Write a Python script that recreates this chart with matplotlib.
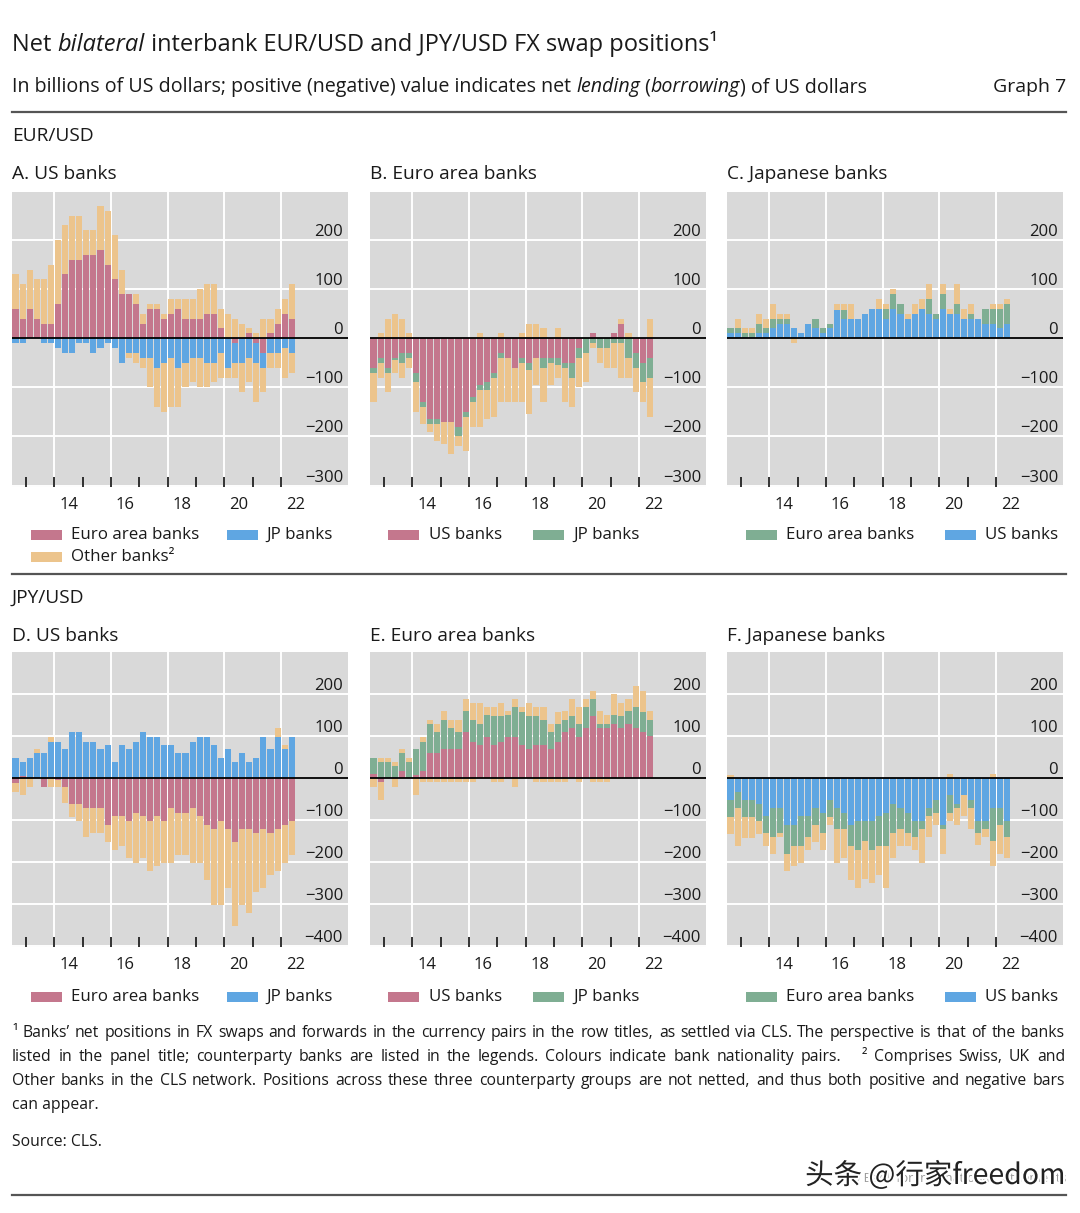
import matplotlib as mpl
mpl.use('Agg')
import matplotlib.pyplot as plt
from matplotlib.patches import Rectangle
from matplotlib.lines import Line2D
import matplotlib.patheffects as pe
import numpy as np
import pandas as pd

plt.rcParams['font.family'] = ['Open Sans', 'DejaVu Sans']

W, H = 1080, 1213

# quarters 2012Q3 .. 2022Q2
quarters = pd.period_range('2012Q3', '2022Q2', freq='Q')
xq = np.array([q.year + (q.quarter - 1) / 4 + 0.125 for q in quarters])

# colours by bank nationality pair
ROSE = '#c4778d'   # US - euro area
BLUE = '#5fa6e2'   # US - Japan
GREEN = '#7fae93'  # euro area - Japan
TAN = '#ecc48c'    # other banks
BG = '#d9d9d9'

# ---- EUR/USD ----
# A. US banks
a_ea = [60, 40, 60, 40, 30, 30, 70, 130, 160, 160, 170, 170, 180, 150, 120, 90, 90, 70, 30, 60,
        60, 40, 50, 60, 40, 40, 40, 50, 50, 20, 0, -10, 0, 10, -10, -30, 10, 30, 50, 40]
a_jp = [-10, -10, 0, 0, -10, -10, -20, -30, -30, -10, -10, -30, -20, -10, -20, -50, -30, -30, -40, -40,
        -60, -50, -40, -60, -50, -40, -40, -50, -50, -30, -60, -40, -50, -40, -40, -30, -30, -30, -20, -30]
a_oth_pos = [70, 70, 80, 80, 90, 120, 130, 100, 90, 90, 50, 50, 90, 110, 90, 50, 0, 20, 20, 10,
             10, 10, 30, 20, 40, 40, 60, 60, 60, 40, 50, 40, 30, 10, 10, 40, 30, 30, 30, 70]
a_oth_neg = [0, 0, 0, 0, 0, 0, 0, 0, 0, 0, 0, 0, 0, 0, 0, 0, -10, -20, -20, -60,
             -80, -100, -100, -80, -50, -50, -60, -50, -40, -50, -20, -30, -60, -50, -80, -50, -30, -30, -60, -40]

# B. Euro area banks
b_us = [-60, -40, -60, -40, -30, -30, -70, -130, -165, -165, -170, -170, -180, -150, -120, -95, -90, -70, -30, -40,
        -60, -40, -50, -40, -40, -40, -40, -50, -50, -20, 0, 10, 0, 0, 10, 30, 0, -30, -50, -40]
b_jp = [-10, -10, -10, -5, -20, -10, -20, -10, -10, -10, 0, 0, -20, -10, -10, -10, -15, -10, -10, 0,
        0, -10, -15, 0, -20, -10, -15, -10, -30, -20, -30, -10, -20, -20, -10, -10, -40, -30, -40, -40]
b_oth_pos = [0, 10, 40, 50, 40, 10, 0, 0, 0, 0, 0, 0, 0, 0, 0, 10, 0, 0, 10, 0,
             0, 10, 30, 30, 20, 0, 20, 0, 0, 0, 0, 0, 0, 0, 0, 10, 10, 0, 0, 40]
b_oth_neg = [-60, -30, -40, -25, -30, -20, -60, -35, -15, -35, -45, -65, -20, -70, -50, -75, -60, -80, -90, -90,
             -70, -80, -90, -55, -70, -45, -25, -70, -60, -60, -60, -10, -30, -40, -50, -70, -40, -50, -40, -80]

# C. Japanese banks
c_us = [10, 10, 3, 3, 10, 10, 20, 30, 30, 20, 10, 30, 20, 10, 20, 58, 40, 40, 40, 50,
        60, 60, 40, 60, 50, 40, 50, 60, 50, 40, 60, 50, 50, 40, 40, 40, 30, 30, 20, 30]
c_ea = [10, 10, 7, 7, 20, 10, 20, 10, 10, 0, 0, 0, 20, 10, 10, 0, 18, 0, 0, 0,
        0, 0, 20, 30, 20, 0, 0, 0, 30, 10, 30, 0, 20, 0, 10, 0, 30, 30, 40, 40]
c_oth_pos = [0, 20, 10, 10, 20, 20, 30, 10, 10, 0, 0, 0, 0, 0, 0, 12, 12, 30, 0, 0,
             0, 20, 10, 10, 0, 10, 20, 20, 30, 0, 20, 10, 40, 20, 20, 0, 0, 10, 10, 10]
c_oth_neg = [0, 0, 0, 0, 0, 0, 0, 0, 0, -10, 0, 0, 0, 0, 0, 0, 0, 0, 0, 0,
             0, 0, 0, 0, 0, 0, 0, 0, 0, 0, 0, 0, 0, 0, 0, 0, 0, 0, 0, 0]

# ---- JPY/USD ----
# D. US banks
d_ea = [-12, 5, 0, 0, -22, 0, -5, -22, -62, -62, -71, -71, -71, -111, -91, -91, -101, -82, -91, -101,
        -91, -101, -71, -82, -82, -71, -91, -111, -121, -101, -121, -151, -121, -121, -131, -121, -131, -121, -111, -101]
d_jp = [48, 33, 48, 60, 60, 87, 87, 69, 110, 110, 87, 87, 69, 79, 38, 79, 69, 87, 110, 98,
        98, 79, 79, 60, 60, 87, 98, 98, 79, 48, 69, 38, 60, 38, 48, 98, 69, 98, 69, 98]
d_oth_pos = [0, 0, 0, 10, 0, 10, 0, 0, 0, 0, 0, 0, 0, 0, 0, 0, 0, 0, 0, 0,
             0, 0, 0, 0, 0, 0, 0, 0, 0, 0, 0, 0, 0, 0, 0, 0, 0, 21, 10, 0]
d_oth_neg = [-20, -41, -22, 0, 0, -22, -17, -38, -30, -40, -70, -60, -60, -40, -79, -70, -89, -120, -99, -120,
             -119, -101, -131, -101, -101, -131, -111, -131, -181, -200, -141, -202, -181, -200, -139, -141, -99, -101, -91, -81]

# E. Euro area banks
e_us = [10, -10, 0, 0, 17, 0, 8, 17, 60, 60, 69, 69, 69, 110, 87, 79, 98, 79, 87, 98,
        98, 79, 69, 79, 79, 69, 87, 110, 119, 98, 119, 148, 119, 119, 129, 119, 129, 119, 110, 99]
e_jp = [38, 38, 38, 28, 42, 38, 61, 70, 69, 50, 70, 50, 40, 49, 52, 49, 51, 69, 61, 51,
        71, 79, 79, 69, 60, 40, 41, 29, 29, 31, 49, 40, 10, 10, 20, 29, 30, 49, 48, 40]
e_oth_pos = [0, 10, 10, 10, 10, 10, 0, 10, 10, 19, 20, 20, 30, 30, 40, 50, 20, 20, 30, 10,
             20, 10, 30, 20, 30, 20, 30, 20, 40, 40, 20, 20, 30, 20, 50, 30, 30, 50, 50, 20]
e_oth_neg = [-22, -42, 0, -22, 0, 0, -41, -10, -10, -10, -10, -10, -10, -10, -10, 0, 0, -10, -10, 0,
             -22, 0, 0, -10, -10, -10, -10, -10, 0, -10, 0, -10, -10, -10, 0, 0, 0, 0, 0, 0]

# F. Japanese banks
f_us = [-52, -32, -52, -52, -62, -91, -71, -71, -111, -111, -91, -91, -71, -82, -52, -71, -82, -111, -101, -101,
        -101, -91, -82, -62, -71, -82, -101, -101, -71, -52, -111, -41, -62, -41, -52, -101, -101, -71, -71, -101]
f_ea = [-40, -40, -40, -40, -40, -40, -70, -60, -70, -50, -70, -50, -40, -49, -40, -50, -40, -50, -69, -49,
        -69, -70, -79, -69, -50, -49, -40, -20, -20, -30, -10, -41, -10, 0, -20, -29, -20, -79, -40, -40]
f_oth_pos = [8, 0, 0, 0, 0, 0, 0, 0, 0, 0, 0, 0, 0, 0, 0, 0, 0, 0, 0, 0,
             0, 0, 0, 0, 0, 0, 0, 0, 0, 0, 0, 10, 0, 0, 0, 0, 0, 10, 0, 0]
f_oth_neg = [-40, -90, -50, -50, -30, -30, -40, -10, -41, -49, -41, -29, -40, -40, -20, -81, -69, -81, -91, -91,
             -79, -69, -101, -60, -40, -30, -29, -81, -50, -29, -60, -20, -40, -50, -50, -30, -20, -60, -70, -50]

panels = [
    ('A. US banks', [(a_ea, ROSE), (a_jp, BLUE), (a_oth_pos, TAN), (a_oth_neg, TAN)],
     [('Euro area banks', ROSE), ('JP banks', BLUE), ('Other banks²', TAN)], 0),
    ('B. Euro area banks', [(b_us, ROSE), (b_jp, GREEN), (b_oth_pos, TAN), (b_oth_neg, TAN)],
     [('US banks', ROSE), ('JP banks', GREEN)], 0),
    ('C. Japanese banks', [(c_us, BLUE), (c_ea, GREEN), (c_oth_pos, TAN), (c_oth_neg, TAN)],
     [('Euro area banks', GREEN), ('US banks', BLUE)], 0),
    ('D. US banks', [(d_ea, ROSE), (d_jp, BLUE), (d_oth_pos, TAN), (d_oth_neg, TAN)],
     [('Euro area banks', ROSE), ('JP banks', BLUE)], 1),
    ('E. Euro area banks', [(e_us, ROSE), (e_jp, GREEN), (e_oth_pos, TAN), (e_oth_neg, TAN)],
     [('US banks', ROSE), ('JP banks', GREEN)], 1),
    ('F. Japanese banks', [(f_us, BLUE), (f_ea, GREEN), (f_oth_pos, TAN), (f_oth_neg, TAN)],
     [('Euro area banks', GREEN), ('US banks', BLUE)], 1),
]

col_left = [12, 370, 727]
ax_w = 336
row_top = [192, 652]
ax_h = 295
row_ylim = [(-303, 298), (-402, 300)]
row_yticks = [[200, 100, 0, -100, -200, -300], [200, 100, 0, -100, -200, -300, -400]]
legend_y = [535, 997]
title_y = [174, 636]
leg_off = [[(19, 59), (215, 254)], [(18, 59), (163, 203)], [(19, 59), (218, 258)]]
TXT = '#1a1a1a'

fig = plt.figure(figsize=(W / 100, H / 100), dpi=100)
fig.patch.set_facecolor('white')


def fx(px):
    return px / W


def fy(py):
    return 1 - py / H


for k, (ttl, series, legend, row) in enumerate(panels):
    col = k % 3
    L = col_left[col]
    ax = fig.add_axes([fx(L), fy(row_top[row] + ax_h), ax_w / W, ax_h / H])
    ax.set_facecolor(BG)
    for s in ax.spines.values():
        s.set_visible(False)
    ax.set_xlim(2012.5, 2024.36)
    ax.set_ylim(*row_ylim[row])

    # grid
    for yv in row_yticks[row]:
        if yv != 0:
            ax.axhline(yv, color='white', lw=1.4, zorder=0.5)
    for xv in [2014, 2016, 2018, 2020, 2022]:
        ax.axvline(xv, color='white', lw=1.4, zorder=0.5)

    # stacked bars, positives up and negatives down
    pos = np.zeros(len(xq))
    neg = np.zeros(len(xq))
    for vals, c in series:
        v = np.asarray(vals, dtype=float)
        bottom = np.where(v >= 0, pos, neg)
        ax.bar(xq, v, width=0.215, bottom=bottom, color=c, linewidth=0, zorder=2)
        pos = pos + np.clip(v, 0, None)
        neg = neg + np.clip(v, None, 0)
    ax.axhline(0, color='black', lw=1.3, zorder=3)

    # y labels inside, right side, above grid lines
    ax.set_yticks([])
    for yv in row_yticks[row]:
        lab = str(yv).replace('-', '\u2212')
        ax.text(0.985, yv, lab, transform=ax.get_yaxis_transform(), ha='right', va='bottom',
                fontsize=12, color=TXT, zorder=4)

    # x ticks: short inside marks at year starts, labels at mid-year
    ax.set_xticks(np.arange(2013, 2023), [''] * 10)
    ax.tick_params(axis='x', which='major', direction='in', length=7, width=1.3, color='#222222')
    ax.set_xticks(np.arange(2014.5, 2023, 2), ['14', '16', '18', '20', '22'], minor=True)
    ax.tick_params(axis='x', which='minor', length=0, pad=7, labelsize=12, labelcolor=TXT)

    # panel title
    fig.text(fx(L), fy(title_y[row]), ttl, fontsize=13.8, va='center', ha='left', color=TXT)

    # legend
    for j, (lab, c) in enumerate(legend):
        if j < 2:
            po, to = leg_off[col][j]
            ly = legend_y[row]
        else:
            po, to = leg_off[col][0]
            ly = legend_y[row] + 22
        fig.add_artist(Rectangle((fx(L + po), fy(ly + 5)), 31 / W, 10 / H, transform=fig.transFigure,
                                 facecolor=c, edgecolor='none'))
        fig.text(fx(L + to), fy(ly), lab, fontsize=12.2, va='center', ha='left', color=TXT)

renderer = fig.canvas.get_renderer()


def runs(x, y, parts, size):
    for s, style in parts:
        t = fig.text(fx(x), fy(y), s, fontsize=size, va='baseline', ha='left', color=TXT, **style)
        x += t.get_window_extent(renderer).width


def justified(x0, x1, y, line, size):
    words = line.split(' ')
    widths = []
    for w in words:
        if w:
            t = fig.text(0, 0, w, fontsize=size)
            widths.append(t.get_window_extent(renderer).width)
            t.remove()
        else:
            widths.append(0)
    gap = (x1 - x0 - sum(widths)) / (len(words) - 1)
    x = x0
    for w, wd in zip(words, widths):
        if w:
            fig.text(fx(x), fy(y), w, fontsize=size, va='center', ha='left', color=TXT)
        x += wd + gap


runs(12, 51, [('Net ', {}), ('bilateral', {'style': 'italic'}),
              (' interbank EUR/USD and JPY/USD FX swap positions\u00b9', {})], 17)
runs(12, 92, [('In billions of US dollars; positive (negative) value indicates net ', {}),
              ('lending', {'style': 'italic'}), (' (', {}), ('borrowing', {'style': 'italic'}),
              (') of US dollars', {})], 14.1)
fig.text(fx(1066), fy(92), 'Graph 7', fontsize=14, va='baseline', ha='right', color=TXT)

fig.text(fx(12), fy(136), 'EUR/USD', fontsize=13.8, va='center', ha='left', color=TXT)
fig.text(fx(12), fy(598), 'JPY/USD', fontsize=13.8, va='center', ha='left', color=TXT)

for yl in [112, 574, 1195]:
    fig.add_artist(Line2D([fx(12), fx(1066)], [fy(yl), fy(yl)], transform=fig.transFigure,
                          color='#555555', lw=1.6))

foot = [
    '\u00b9 Banks\u2019 net positions in FX swaps and forwards in the currency pairs in the row titles, as settled via CLS. The perspective is that of the banks',
    'listed in the panel title; counterparty banks are listed in the legends. Colours indicate bank nationality pairs.   \u00b2 Comprises Swiss, UK and',
    'Other banks in the CLS network. Positions across these three counterparty groups are not netted, and thus both positive and negative bars',
]
FS = 11.3
for i, line in enumerate(foot):
    justified(12, 1065, 1033 + 24 * i, line, FS)
fig.text(fx(12), fy(1033 + 24 * 3), 'can appear.', fontsize=FS, va='center', ha='left', color=TXT)
fig.text(fx(12), fy(1142), 'Source: CLS.', fontsize=FS, va='center', ha='left', color=TXT)

fig.text(fx(1066), fy(1178), '\u00a9 Bank for International Settlements', fontsize=9, va='center',
         ha='right', color='#999999')
fig.text(fx(1066), fy(1176), '头条 @行家freedom', fontsize=20.5, va='center', ha='right', color='#222222',
         family=['Noto Sans CJK SC', 'DejaVu Sans'],
         path_effects=[pe.withStroke(linewidth=3, foreground='white')])

fig.savefig('out.png', dpi=100)
